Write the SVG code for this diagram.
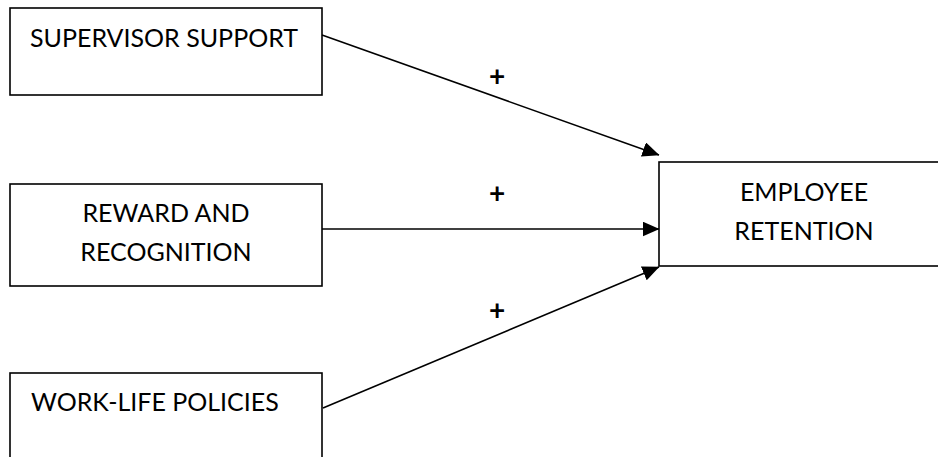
<svg xmlns="http://www.w3.org/2000/svg" width="938" height="457" viewBox="0 0 938 457">
<style>
.box{fill:#fff;stroke:#000;stroke-width:1.6}
.lbl{font-family:Lato,"Open Sans","Liberation Sans",sans-serif;font-size:25px;fill:#000}
.plus{font-family:Lato,"Liberation Sans",sans-serif;font-size:28px;font-weight:bold;fill:#000;text-anchor:middle}
.edge{stroke:#000;stroke-width:1.6;fill:none;marker-end:url(#ah)}
</style>
<defs>
<marker id="ah" markerUnits="userSpaceOnUse" markerWidth="17" markerHeight="15" viewBox="0 0 17 15" refX="16.5" refY="7.5" orient="auto">
<path d="M0,0 L17,7.5 L0,15 z" fill="#000"/>
</marker>
</defs>
<rect width="938" height="457" fill="#fff"/>
<g id="supervisor-support">
<rect class="box" x="10" y="8" width="312" height="87"/>
<text class="lbl" x="30" y="47">SUPERVISOR SUPPORT</text>
</g>
<g id="reward-recognition">
<rect class="box" x="10" y="184" width="312" height="102"/>
<text class="lbl" x="166" y="222" text-anchor="middle">REWARD AND</text>
<text class="lbl" x="166" y="261" text-anchor="middle">RECOGNITION</text>
</g>
<g id="work-life-policies">
<rect class="box" x="10" y="373" width="312" height="100"/>
<text class="lbl" x="31" y="411">WORK-LIFE POLICIES</text>
</g>
<g id="employee-retention">
<rect class="box" x="659" y="162" width="300" height="104"/>
<text class="lbl" x="804" y="201" text-anchor="middle">EMPLOYEE</text>
<text class="lbl" x="804" y="240" text-anchor="middle">RETENTION</text>
</g>
<g id="connectors">
<line class="edge" x1="322" y1="35" x2="659" y2="155"/>
<line class="edge" x1="322" y1="229" x2="659" y2="229"/>
<line class="edge" x1="323" y1="408" x2="659" y2="267"/>
<text class="plus" x="497" y="86">+</text>
<text class="plus" x="497" y="203">+</text>
<text class="plus" x="497" y="320">+</text>
</g>
</svg>
